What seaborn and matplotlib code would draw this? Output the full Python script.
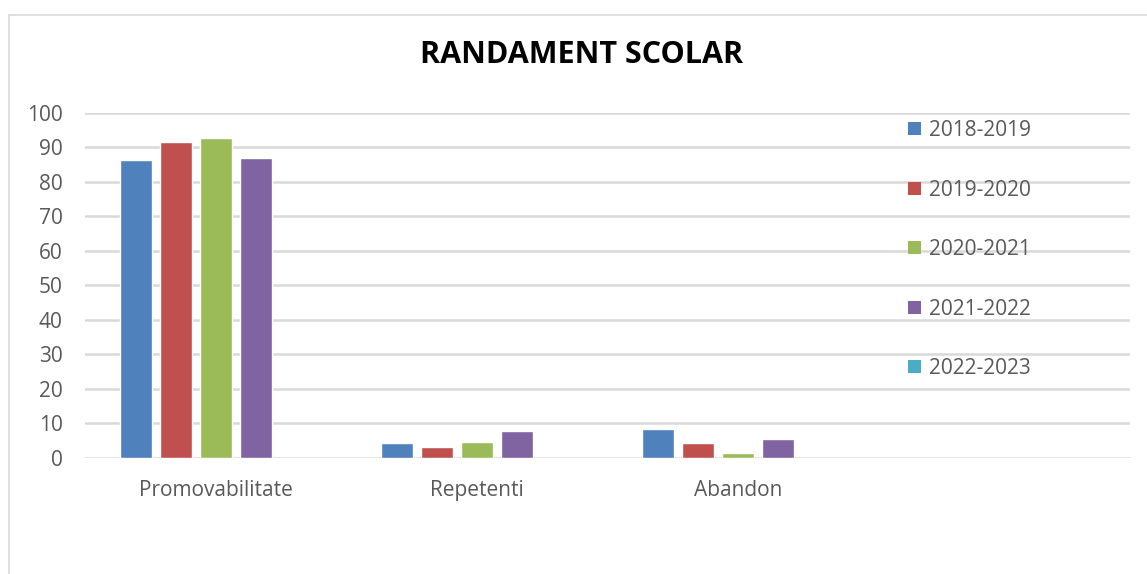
import numpy as np
import pandas as pd
import matplotlib.pyplot as plt
import seaborn as sns
from matplotlib.patches import Patch
from matplotlib.lines import Line2D

# data
categories = ['Promovabilitate', 'Repetenti', 'Abandon']
years = ['2018-2019', '2019-2020', '2020-2021', '2021-2022', '2022-2023']
v_2018_2019 = [86.4, 4.2, 8.3]
v_2019_2020 = [91.5, 3.0, 4.2]
v_2020_2021 = [92.7, 4.5, 1.3]
v_2021_2022 = [86.9, 7.6, 5.3]
v_2022_2023 = [np.nan, np.nan, np.nan]
colors = ['#4F81BD', '#C0504D', '#9BBB59', '#8064A2', '#4BACC6']

series = [v_2018_2019, v_2019_2020, v_2020_2021, v_2021_2022, v_2022_2023]
rows = []
for year, vals in zip(years, series):
    for cat, v in zip(categories, vals):
        rows.append({'categorie': cat, 'an': year, 'valoare': v})
df = pd.DataFrame(rows)

sns.set_theme(style='white')
plt.rcParams['font.family'] = ['Open Sans', 'DejaVu Sans']

fig = plt.figure(figsize=(11.47, 5.74), dpi=100)
ax = fig.add_axes([85 / 1147, 1 - 457.5 / 574, (1130 - 85) / 1147, (457.5 - 113) / 574])

sns.barplot(data=df, x='categorie', y='valoare', hue='an',
            order=categories + [''], hue_order=years, palette=colors,
            width=0.766, gap=0.2, legend=False, ax=ax, saturation=1)

ax.set_ylim(0, 100)
ax.set_yticks(range(0, 101, 10))
ax.yaxis.grid(True, color='#D9D9D9', linewidth=1.8)
ax.set_axisbelow(True)
ax.set_xlabel('')
ax.set_ylabel('')
for s in ax.spines.values():
    s.set_visible(False)
ax.tick_params(axis='both', length=0, colors='#595959', labelsize=15)
ax.tick_params(axis='y', pad=16)
ax.tick_params(axis='x', pad=16)

fig.text(582 / 1147, 1 - 63 / 574, 'RANDAMENT SCOLAR', ha='center', va='baseline',
         fontsize=22, fontweight='bold', color='black')

handles = [Patch(facecolor=c, edgecolor='none') for c in colors]
leg = ax.legend(handles, years, loc='upper left', bbox_to_anchor=(908 / 1147, 1 - 120 / 574),
                bbox_transform=fig.transFigure, frameon=False, fontsize=15,
                handlelength=0.6, handleheight=0.6, handletextpad=0.4,
                labelspacing=1.85, borderaxespad=0, borderpad=0)
for t in leg.get_texts():
    t.set_color('#595959')

# outer chart frame
fig.add_artist(Line2D([9 / 1147, 9 / 1147], [0, 1 - 15 / 574], transform=fig.transFigure,
                      color='#D9D9D9', linewidth=1.2))
fig.add_artist(Line2D([9 / 1147, 1], [1 - 15 / 574, 1 - 15 / 574], transform=fig.transFigure,
                      color='#D9D9D9', linewidth=1.2))

fig.savefig('out.png', dpi=100)
